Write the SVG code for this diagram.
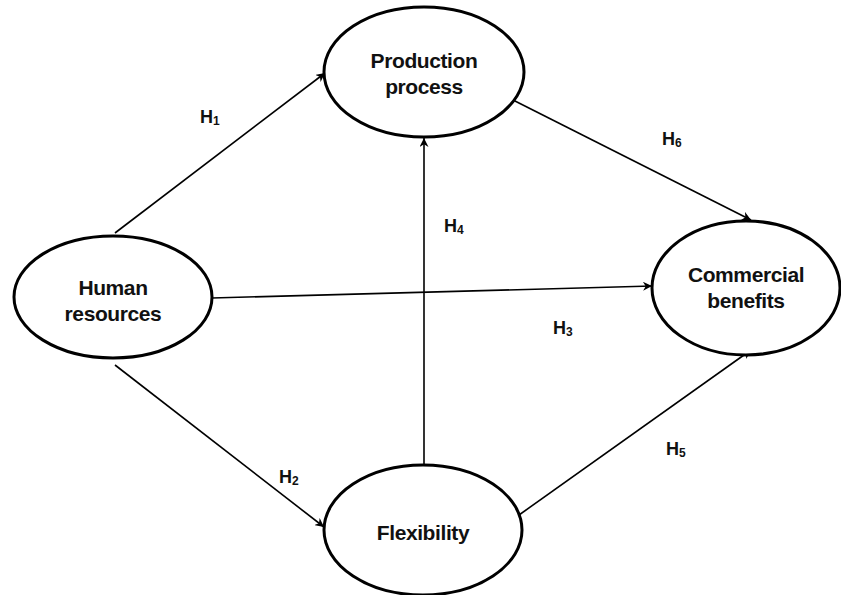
<svg xmlns="http://www.w3.org/2000/svg" width="841" height="595" viewBox="0 0 841 595">
<defs>
<marker id="arr" viewBox="0 0 10 10" refX="10" refY="5" markerWidth="9" markerHeight="9" markerUnits="userSpaceOnUse" orient="auto">
<path d="M0,0 L10,5 L0,10 L3,5 Z" fill="#000"/>
</marker>
<style>
.node{fill:#fff;stroke:#000;stroke-width:3}
.t{font-family:"Liberation Sans",Arial,sans-serif;font-weight:bold;font-size:21px;letter-spacing:-0.4px;text-anchor:middle;fill:#111}
.e{stroke:#000;stroke-width:1.6;fill:none;marker-end:url(#arr)}
.h{font-family:"Liberation Sans",Arial,sans-serif;font-weight:bold;font-size:18px;fill:#111}
.s{font-size:12px}
</style>
</defs>
<rect width="841" height="595" fill="#fff"/>
<g id="connectors">
<line class="e" x1="115" y1="233" x2="325" y2="73"/>
<line class="e" x1="212" y1="298" x2="652" y2="286"/>
<line class="e" x1="115" y1="365" x2="324" y2="527"/>
<line class="e" x1="424" y1="465" x2="424" y2="138"/>
<line class="e" x1="513" y1="100" x2="751" y2="220"/>
<line class="e" x1="519" y1="515" x2="751" y2="350"/>
</g>
<g id="labels">
<text class="h" x="200" y="123">H<tspan class="s" dy="2">1</tspan></text>
<text class="h" x="279" y="483">H<tspan class="s" dy="2">2</tspan></text>
<text class="h" x="553" y="334">H<tspan class="s" dy="2">3</tspan></text>
<text class="h" x="444" y="232">H<tspan class="s" dy="2">4</tspan></text>
<text class="h" x="666" y="455">H<tspan class="s" dy="2">5</tspan></text>
<text class="h" x="662" y="145">H<tspan class="s" dy="2">6</tspan></text>
</g>
<g id="production">
<ellipse class="node" cx="424" cy="72" rx="100" ry="65"/>
<text class="t" x="424" y="68">Production</text>
<text class="t" x="424" y="94">process</text>
</g>
<g id="human">
<ellipse class="node" cx="113" cy="297" rx="99" ry="61"/>
<text class="t" x="113" y="295">Human</text>
<text class="t" x="113" y="321">resources</text>
</g>
<g id="commercial">
<ellipse class="node" cx="746" cy="288" rx="94" ry="67"/>
<text class="t" x="746" y="282">Commercial</text>
<text class="t" x="746" y="308">benefits</text>
</g>
<g id="flexibility">
<ellipse class="node" cx="423" cy="530" rx="99" ry="65"/>
<text class="t" x="423" y="540">Flexibility</text>
</g>
</svg>
